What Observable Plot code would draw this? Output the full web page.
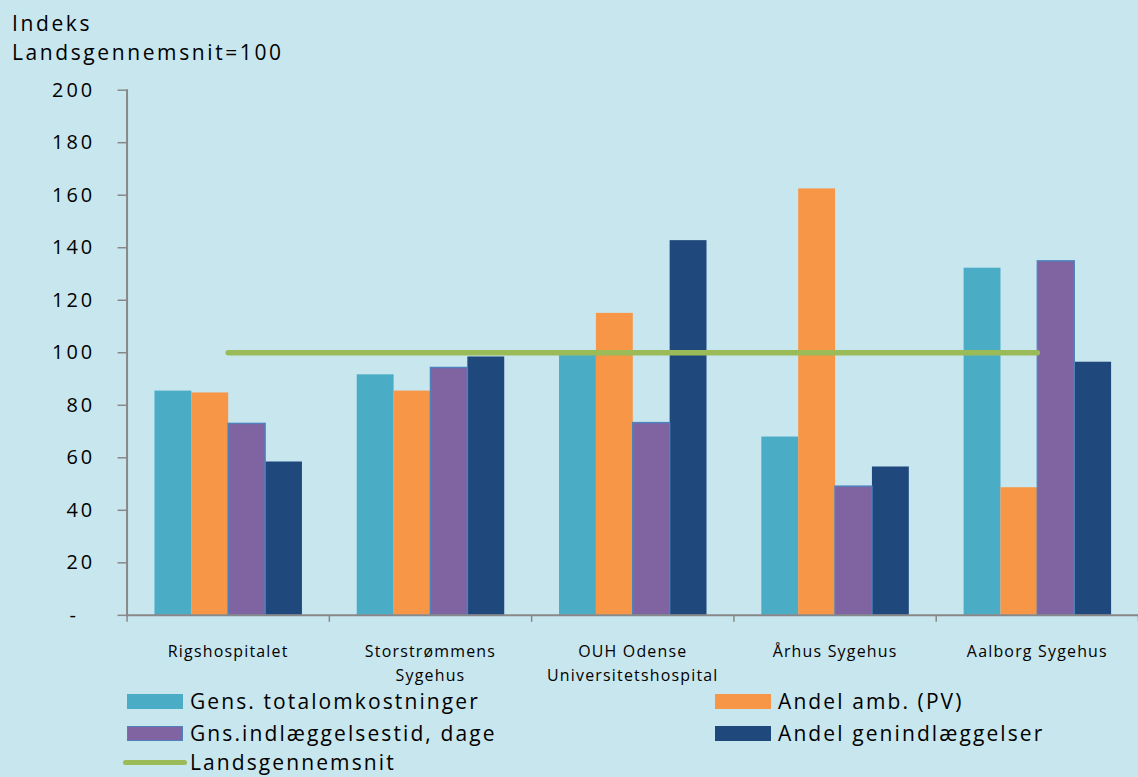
<!DOCTYPE html>
<html><head><meta charset="utf-8">
<script src="https://cdn.jsdelivr.net/npm/d3@7"></script>
<script src="https://cdn.jsdelivr.net/npm/@observablehq/plot@0.6"></script>
<style>
html,body{margin:0;padding:0;background:#c8e6ee;width:1138px;height:777px;overflow:hidden;font-family:"Open Sans",sans-serif;color:#000}
#chart{position:relative;width:1138px;height:777px;overflow:hidden}
.layer{position:absolute;left:0;top:0}
.title{position:absolute;left:12px;font-size:21px;letter-spacing:2.6px;line-height:1;white-space:nowrap}
.leg{position:absolute;font-size:21px;letter-spacing:2.1px;line-height:1;display:flex;align-items:center;white-space:nowrap}
.sw{width:56px;height:15px;margin-right:7px;box-sizing:border-box}
.ln{width:64px;height:5.5px;border-radius:3px;margin-left:-4px;margin-right:3px}
</style></head><body>
<div id="chart">
  <div class="title" style="top:13px">Indeks</div>
  <div class="title" style="top:42px">Landsgennemsnit=100</div>
</div>
<script>
// ---- data ----
const hospitals = ["Rigshospitalet", "Storstrømmens Sygehus", "OUH Odense Universitetshospital", "Århus Sygehus", "Aalborg Sygehus"];
const hospitalLabels = ["Rigshospitalet", "Storstrømmens\nSygehus", "OUH Odense\nUniversitetshospital", "Århus Sygehus", "Aalborg Sygehus"];
const seriesNames = ["Gens. totalomkostninger", "Andel amb. (PV)", "Gns.indlæggelsestid, dage", "Andel genindlæggelser"];
const gensTotal = [85.4, 91.6, 99.4, 67.9, 132.2];
const andelAmb = [84.7, 85.4, 115.0, 162.4, 48.6];
const indlTid = [72.9, 94.2, 73.2, 49.0, 134.8];
const genindl = [58.4, 98.4, 142.7, 56.5, 96.4];
const landsgennemsnit = [100, 100, 100, 100, 100];
const lineName = "Landsgennemsnit";
const yTicks = [0, 20, 40, 60, 80, 100, 120, 140, 160, 180, 200];

const seriesValues = [gensTotal, andelAmb, indlTid, genindl];
const colors = ["#4bacc6", "#f79646", "#8064a2", "#1f497d"];
const lineColor = "#9bbb59";

const data = hospitals.flatMap((h, i) => seriesNames.map((s, j) => ({hospital: h, series: s, value: seriesValues[j][i]})));

const W = 1142, H = 700, MT = 90, MB = 83, ML = 127, MR = 0;
const chart = document.getElementById("chart");
const common = {width: W, height: H, marginTop: MT, marginBottom: MB, marginLeft: ML, marginRight: MR};

// bars (faceted by hospital)
const main = Plot.plot({
  ...common,
  style: {background: "transparent", fontFamily: "Open Sans", fontSize: "16px", letterSpacing: "1.2px", color: "#000", overflow: "visible"},
  fx: {domain: hospitals, padding: 0, label: null},
  x: {domain: seriesNames, paddingInner: 0, paddingOuter: 0.74, axis: null},
  y: {domain: [0, 200], axis: null},
  color: {domain: seriesNames, range: colors},
  marks: [
    Plot.barY(data, {fx: "hospital", x: "series", y: "value", fill: "series"}),
    Plot.barY(data.filter(d => d.series === seriesNames[2]), {fx: "hospital", x: "series", y: "value", fill: "series", stroke: "#4f81bd", strokeWidth: 1.5}),
    Plot.axisFx({anchor: "bottom", tickSize: 0, tickPadding: 25, lineHeight: 1.5, label: null, fontSize: 16,
      tickFormat: h => hospitalLabels[hospitals.indexOf(h)]})
  ]
});
main.classList.add("layer");
chart.appendChild(main);

// boundary ticks on the category axis
const boundaries = d3.range(hospitals.length + 1);
const tk = Plot.plot({
  ...common,
  style: {background: "transparent", overflow: "visible"},
  x: {type: "point", domain: boundaries, padding: 0, axis: null},
  marks: [Plot.axisX({tickSize: 7, tickFormat: () => "", stroke: "#888", strokeWidth: 1.5})]
});
tk.classList.add("layer");
chart.appendChild(tk);

// axes + average line
const over = Plot.plot({
  ...common,
  style: {background: "transparent", fontFamily: "Open Sans", fontSize: "20px", letterSpacing: "3px", color: "#000", overflow: "visible"},
  x: {type: "band", domain: hospitals, padding: 0, axis: null},
  y: {domain: [0, 200], axis: null},
  marks: [
    Plot.ruleY([0], {stroke: "#888", strokeWidth: 2}),
    Plot.frame({anchor: "left", stroke: "#888", strokeWidth: 2}),
    Plot.axisY({ticks: yTicks, tickSize: 9, tickPadding: 23, label: null, fontSize: 20, stroke: "#888", strokeWidth: 1.5, fill: "#000",
      tickFormat: d => d === 0 ? "-\u00a0\u00a0" : String(d)}),
    Plot.lineY(hospitals, {x: d => d, y: (d, i) => landsgennemsnit[i], stroke: lineColor, strokeWidth: 5.5, strokeLinecap: "round"})
  ]
});
over.classList.add("layer");
chart.appendChild(over);

// legend
const legendItems = [
  {name: seriesNames[0], color: colors[0], left: 127, top: 691},
  {name: seriesNames[1], color: colors[1], left: 715, top: 691},
  {name: seriesNames[2], color: colors[2], left: 127, top: 723, border: "#4f81bd"},
  {name: seriesNames[3], color: colors[3], left: 715, top: 723},
  {name: lineName, color: lineColor, left: 127, top: 752, line: true}
];
for (const it of legendItems) {
  const el = document.createElement("div");
  el.className = "leg";
  el.style.left = it.left + "px";
  el.style.top = it.top + "px";
  const sw = document.createElement("span");
  sw.className = it.line ? "ln" : "sw";
  sw.style.background = it.color;
  if (it.border) sw.style.border = "1.5px solid " + it.border;
  el.appendChild(sw);
  const tx = document.createElement("span");
  tx.textContent = it.name;
  el.appendChild(tx);
  chart.appendChild(el);
}
</script>
</body></html>
